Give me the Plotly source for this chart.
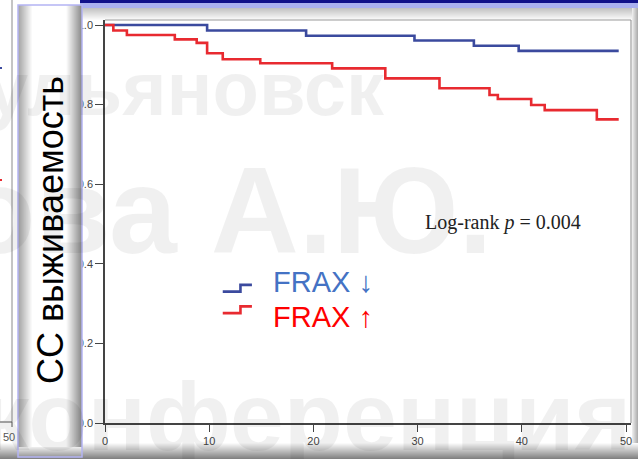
import plotly.graph_objects as go

# ---------------- data ----------------
blue_t = [0, 9.8, 19.3, 29.7, 35.4, 39.7, 49.3]
blue_s = [1.0, 0.986, 0.973, 0.961, 0.948, 0.935, 0.935]

red_t = [0, 0.8, 2.1, 6.7, 8.8, 9.8, 11.3, 14.9, 21.8, 26.9, 32.1, 36.9, 37.7, 40.9, 42.2, 47.2, 49.3]
red_s = [1.0, 0.986, 0.975, 0.964, 0.955, 0.929, 0.914, 0.904, 0.891, 0.866, 0.841, 0.824, 0.814, 0.799, 0.786, 0.763, 0.763]

x_ticks = [0, 10, 20, 30, 40, 50]
x_ticklabels = ["0", "10", "20", "30", "40", "50"]
y_ticks = [0.0, 0.2, 0.4, 0.6, 0.8, 1.0]
y_ticklabels = ["0.0", "0.2", "0.4", "0.6", "0.8", "1.0"]

legend_labels = ["FRAX ↓", "FRAX ↑"]
y_title = "СС выживаемость"
logrank_text = "Log-rank <i>p</i> = 0.004"
watermarks = ["ульяновск", "ова А.Ю.", "конференция"]
left_remnant_label = "50"

BLUE_LINE = "#3b4a9e"
RED_LINE = "#e82a30"
BLUE_TXT = "#4472c4"
RED_TXT = "#ff0000"

# ---------------- layout geometry ----------------
W, H = 638, 459
L, R, T, B = 105, 7, 20, 36
PW, PH = W - L - R, H - T - B


def px(x):
    return (x - L) / PW


def py(y):
    return (H - B - y) / PH


fig = go.Figure()
fig.add_trace(go.Scatter(x=blue_t, y=blue_s, mode="lines", line=dict(color=BLUE_LINE, width=2.6, shape="hv"),
                         showlegend=False, hoverinfo="skip"))
fig.add_trace(go.Scatter(x=red_t, y=red_s, mode="lines", line=dict(color=RED_LINE, width=2.6, shape="hv"),
                         showlegend=False, hoverinfo="skip"))

shapes = []


def rect(x0, y0, x1, y1, color, layer="below", line=None):
    shapes.append(dict(type="rect", xref="paper", yref="paper", x0=px(x0), x1=px(x1), y0=py(y1), y1=py(y0),
                       fillcolor=color, line=line or dict(width=0), layer=layer))


def seg(x0, y0, x1, y1, color, width=1, layer="below"):
    shapes.append(dict(type="line", xref="paper", yref="paper", x0=px(x0), x1=px(x1), y0=py(y0), y1=py(y1),
                       line=dict(color=color, width=width), layer=layer))


def grey(v):
    v = int(max(0, min(255, v)))
    return f"rgb({v},{v},{v})"


# top slide bands
rect(80, 0, 638, 3, "#10108a")
rect(80, 3, 638, 8, "#aab0f0")
# top gray gradient
for i in range(12):
    rect(80, 8 + i, 638, 9 + i, grey(195 + i * 5))
# bottom gray gradient
for i in range(16):
    rect(0, 443 + i, 638, 444 + i, grey(250 - i * 8))
# right gray gradient
for i in range(6):
    rect(632 + i, 8, 633 + i, 443, grey(235 - i * 12))

# plot frame (top and right)
seg(105, 20, 631, 20, "#9a9a9a", 1)
seg(631, 20, 631, 423, "#8a8a8a", 1)

# left chart remnant
seg(12, 0, 12, 422, "#8a8a8a", 1)
seg(0, 422, 12, 422, "#555555", 1)
seg(12, 422, 12, 427, "#555555", 1)
seg(0, 68, 2, 68, BLUE_LINE, 2)
seg(0, 180, 2, 180, RED_LINE, 2)

# y-title box with bevel gradient (above tick labels)
rect(18, 5, 82, 457, "#ffffff", layer="above")
for i in range(14):
    rect(18 + i, 5, 19 + i, 457, grey(165 + i * 6.5), layer="above")
for i in range(16):
    rect(81 - i, 5, 82 - i, 457, grey(140 + i * 7.5), layer="above")
for i in range(10):
    rect(18, 447 + i, 82, 448 + i, grey(235 - i * 9), layer="above")
rect(18, 5, 82, 457, "rgba(0,0,0,0)", layer="above", line=dict(color="#b4b4f4", width=1.5))

# legend glyphs (step shapes) in data coordinates
glyph_x = [11.3, 13.0, 14.1]
glyph_y = [(0.330, 0.347), (0.276, 0.293)]
for (lo, hi), col in zip(glyph_y, [BLUE_LINE, RED_LINE]):
    shapes.append(dict(type="path", xref="x", yref="y",
                       path=f"M {glyph_x[0]},{lo} H {glyph_x[1]} V {hi} H {glyph_x[2]}",
                       line=dict(color=col, width=2.6), layer="above"))

annotations = []
# watermarks
wm_specs = [
    (watermarks[0], 387, 88, 76, "right"),
    (watermarks[1], 494, 211, 122, "right"),
    (watermarks[2], -21, 416, 97, "left"),
]
for txt, x, y, size, anch in wm_specs:
    annotations.append(dict(text=f"<b>{txt}</b>", xref="paper", yref="paper", x=px(x), y=py(y),
                            xanchor=anch, yanchor="middle", showarrow=False,
                            font=dict(family="Liberation Sans, Arial", size=size, color="rgba(0,0,0,0.06)")))

# left remnant tick label
annotations.append(dict(text=left_remnant_label, xref="paper", yref="paper", x=px(9), y=py(437),
                        xanchor="center", yanchor="middle", showarrow=False,
                        font=dict(family="Liberation Sans, Arial", size=11, color="#555555")))

# vertical y title
annotations.append(dict(text=y_title, xref="paper", yref="paper", x=px(50), y=py(230), textangle=-90,
                        xanchor="center", yanchor="middle", showarrow=False,
                        font=dict(family="Liberation Sans, Arial", size=36, color="#000000")))
# log-rank
annotations.append(dict(text=logrank_text, xref="x", yref="y", x=30.5, y=0.505, xanchor="left", yanchor="middle",
                        showarrow=False, font=dict(family="Liberation Serif, Times New Roman", size=20, color="#222222")))
# legend texts
for lab, yv, col in zip(legend_labels, [0.355, 0.266], [BLUE_TXT, RED_TXT]):
    annotations.append(dict(text=lab, xref="x", yref="y", x=15.9, y=yv, xanchor="left", yanchor="middle",
                            showarrow=False, font=dict(family="Liberation Sans, Arial", size=29, color=col)))

axis_font = dict(family="Liberation Sans, Arial", size=11, color="#444444")
fig.update_layout(
    width=W, height=H,
    margin=dict(l=L, r=R, t=T, b=B, pad=0),
    paper_bgcolor="#ffffff", plot_bgcolor="#ffffff",
    showlegend=False,
    shapes=shapes, annotations=annotations,
    xaxis=dict(range=[0, PW / 10.42], tickvals=x_ticks, ticktext=x_ticklabels, ticks="outside", ticklen=7,
               tickcolor="#444444", showline=True, linecolor="#444444", linewidth=1.5, showgrid=False,
               zeroline=False, tickfont=axis_font, fixedrange=True),
    yaxis=dict(range=[0, PH / 398.0], tickvals=y_ticks, ticktext=y_ticklabels, ticks="outside", ticklen=8,
               tickcolor="#444444", showline=True, linecolor="#444444", linewidth=1.5, showgrid=False,
               zeroline=False, tickfont=axis_font, fixedrange=True),
)

fig.write_html("out.html", config={"displayModeBar": False},
               post_script="document.body.style.margin='0';document.body.style.overflow='hidden';")
